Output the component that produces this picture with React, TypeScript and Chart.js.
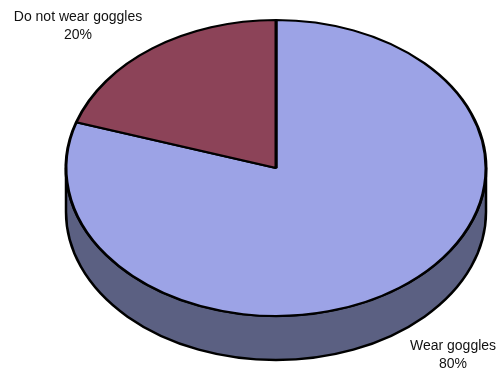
import React, { useEffect, useRef } from "react";
import { Chart, registerables } from "chart.js";

Chart.register(...registerables);

// ---- data ----
const categories = ["Wear goggles", "Do not wear goggles"];
const values = [80, 20];
const percentLabels = ["80%", "20%"];

// ---- styles / layout ----
const topColors = ["#9CA3E6", "#8C4358"];
const sideColors = ["#5B6082", "#55293A"];
const RADIUS = 210;
const TILT = 148 / 210;
const DEPTH = 44;
const FONT = '14px "Liberation Sans", Arial, sans-serif';
// label anchor positions (centre x, first baseline y) per category
const labelAnchors = [
  { x: 453, y: 350 },
  { x: 78, y: 21 },
];

const pie3d = {
  id: "pie3d",
  beforeDatasetsDraw(chart: any) {
    const ctx = chart.ctx as CanvasRenderingContext2D;
    const meta = chart.getDatasetMeta(0);
    let cy = chart.height / 2;
    meta.data.forEach((arc: any, i: number) => {
      const { x, y, startAngle, endAngle, outerRadius } = arc.getProps(
        ["x", "y", "startAngle", "endAngle", "outerRadius"],
        true
      );
      cy = y;
      const ry = outerRadius * TILT;
      for (const off of [-2 * Math.PI, 0, 2 * Math.PI]) {
        const a0 = Math.max(startAngle + off, 0);
        const a1 = Math.min(endAngle + off, Math.PI);
        if (a1 <= a0) continue;
        ctx.save();
        ctx.beginPath();
        ctx.ellipse(x, y, outerRadius, ry, 0, a0, a1);
        ctx.lineTo(x + outerRadius * Math.cos(a1), y + ry * Math.sin(a1) + DEPTH);
        ctx.ellipse(x, y + DEPTH, outerRadius, ry, 0, a1, a0, true);
        ctx.closePath();
        ctx.fillStyle = sideColors[i];
        ctx.fill();
        ctx.lineWidth = 2.5;
        ctx.strokeStyle = "#000";
        ctx.lineJoin = "round";
        ctx.stroke();
        ctx.restore();
      }
    });
    ctx.save();
    ctx.translate(0, cy);
    ctx.scale(1, TILT);
    ctx.translate(0, -cy);
  },
  afterDatasetsDraw(chart: any) {
    chart.ctx.restore();
  },
  afterDraw(chart: any) {
    const ctx = chart.ctx as CanvasRenderingContext2D;
    ctx.save();
    ctx.font = FONT;
    ctx.fillStyle = "#111";
    ctx.textAlign = "center";
    ctx.textBaseline = "alphabetic";
    categories.forEach((c, i) => {
      const a = labelAnchors[i];
      ctx.fillText(c, a.x, a.y);
      ctx.fillText(percentLabels[i], a.x, a.y + 18);
    });
    ctx.restore();
  },
};

export default function App() {
  const ref = useRef<HTMLCanvasElement | null>(null);
  useEffect(() => {
    if (!ref.current) return;
    const chart = new Chart(ref.current, {
      type: "pie",
      data: {
        labels: categories,
        datasets: [
          {
            data: values,
            backgroundColor: topColors,
            borderColor: "#000",
            borderWidth: 3,
            hoverOffset: 0,
            radius: RADIUS,
            clip: false,
          } as any,
        ],
      },
      options: {
        animation: false,
        responsive: false,
        devicePixelRatio: 1,
        layout: { padding: { left: 54, right: 0, top: 0, bottom: 38 } },
        plugins: {
          legend: { display: false },
          tooltip: { enabled: false },
        },
        events: [],
      } as any,
      plugins: [pie3d],
    });
    return () => chart.destroy();
  }, []);
  return (
    <div style={{ position: "absolute", left: 0, top: 0, width: 498, height: 374, background: "#fff" }}>
      <canvas ref={ref} width={498} height={374} style={{ display: "block" }} />
    </div>
  );
}
